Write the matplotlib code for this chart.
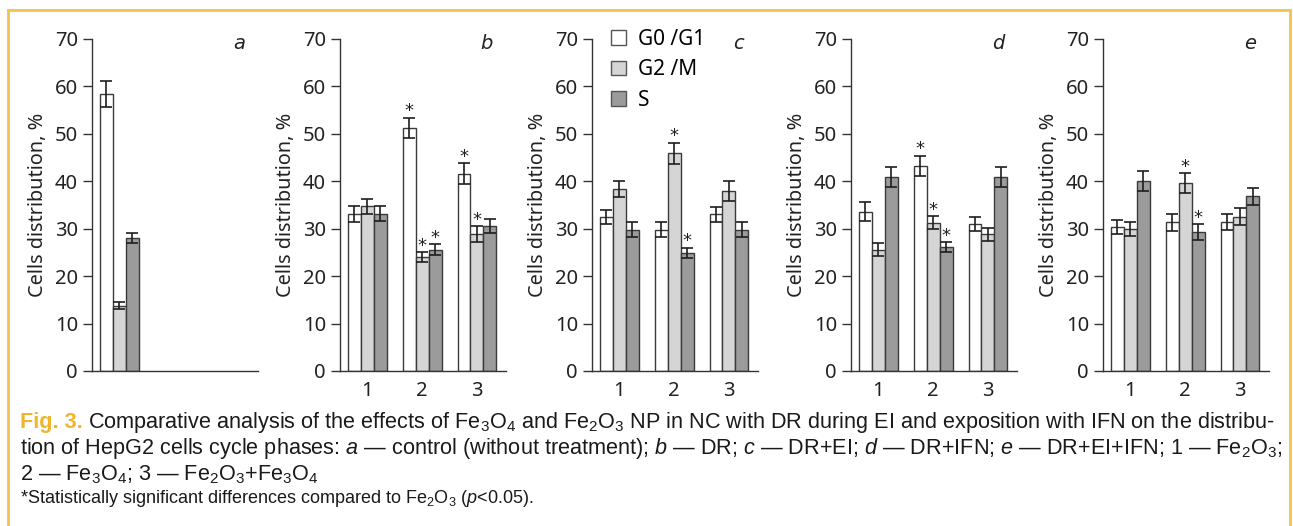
import matplotlib.pyplot as plt
from matplotlib.patches import Patch
from matplotlib.lines import Line2D

plt.rcParams["mathtext.fontset"] = "custom"
plt.rcParams["mathtext.rm"] = "Liberation Sans"
plt.rcParams["mathtext.it"] = "Liberation Sans:italic"
plt.rcParams["mathtext.bf"] = "Liberation Sans:bold"

# data: per panel, rows = groups (1 Fe2O3, 2 Fe3O4, 3 Fe2O3+Fe3O4), cols = G0/G1, G2/M, S
phases = ["G0 /G1", "G2 /M", "S"]
groups = [1, 2, 3]
panel_names = ["a", "b", "c", "d", "e"]

a_mean = [[58.4, 13.8, 28.0]]
a_err = [[2.8, 0.7, 1.1]]
a_sig = [[0, 0, 0]]

b_mean = [[33.1, 34.7, 33.2], [51.3, 24.0, 25.6], [41.6, 28.9, 30.5]]
b_err = [[1.6, 1.6, 1.5], [2.1, 1.0, 1.1], [2.2, 1.6, 1.5]]
b_sig = [[0, 0, 0], [1, 1, 1], [1, 1, 0]]

c_mean = [[32.5, 38.4, 29.8], [29.8, 45.9, 24.9], [33.0, 37.9, 29.8]]
c_err = [[1.5, 1.7, 1.6], [1.6, 2.2, 1.1], [1.6, 2.1, 1.6]]
c_sig = [[0, 0, 0], [0, 1, 1], [0, 0, 0]]

d_mean = [[33.6, 25.6, 40.9], [43.3, 31.3, 26.1], [31.0, 28.8, 40.9]]
d_err = [[2.0, 1.4, 2.2], [2.1, 1.3, 1.0], [1.5, 1.3, 2.2]]
d_sig = [[0, 0, 0], [1, 1, 1], [0, 0, 0]]

e_mean = [[30.4, 29.9, 40.0], [31.4, 39.6, 29.3], [31.4, 32.5, 36.8]]
e_err = [[1.5, 1.5, 2.1], [1.8, 2.1, 1.6], [1.7, 1.8, 1.7]]
e_sig = [[0, 0, 0], [0, 1, 1], [0, 0, 0]]

bar_colors = ["white", "#d5d5d5", "#9b9b9b"]

caption_fig = "Fig. 3."
caption_1 = ("Comparative analysis of the effects of Fe$_3$O$_4$ and Fe$_2$O$_3$ NP in NC "
             "with DR during EI and exposition with IFN on the distribu-")
caption_2 = ("tion of HepG2 cells cycle phases: $a$ — control (without treatment); $b$ — DR; "
             "$c$ — DR+EI; $d$ — DR+IFN; $e$ — DR+EI+IFN; 1 — Fe$_2$O$_3$;")
caption_3 = "2 — Fe$_3$O$_4$; 3 — Fe$_2$O$_3$+Fe$_3$O$_4$"
caption_note = "*Statistically significant differences compared to Fe$_2$O$_3$ ($p$<0.05)."

W, H = 1293, 526
fig = plt.figure(figsize=(W / 100, H / 100), dpi=100)
fig.patch.set_facecolor("white")

tick_font = "Noto Sans"
axis_left = [92, 340, 592, 851, 1103]
bar_w = 0.236

panels = [
    (a_mean, a_err, a_sig),
    (b_mean, b_err, b_sig),
    (c_mean, c_err, c_sig),
    (d_mean, d_err, d_sig),
    (e_mean, e_err, e_sig),
]

for k, (means, errs, sigs) in enumerate(panels):
    ax = fig.add_axes([axis_left[k] / W, (H - 371) / H, 166 / W, 332 / H])
    for i in range(len(means)):
        for j in range(3):
            x = groups[i] + (j - 1) * bar_w
            ax.bar(x, means[i][j], bar_w, color=bar_colors[j], edgecolor="#3a3a3a",
                   linewidth=1.0, zorder=2)
            ax.errorbar(x, means[i][j], yerr=errs[i][j], color="#1e1e1e",
                        elinewidth=1.2, capsize=4.5, capthick=1.2, zorder=3)
            if sigs[i][j]:
                ax.text(x, means[i][j] + errs[i][j] + 0.3, "*", ha="center",
                        va="baseline", fontsize=13, color="#1e1e1e",
                        family="DejaVu Sans")
    ax.set_xlim(0.5, 3.53)
    ax.set_ylim(0, 70)
    ax.set_yticks(range(0, 71, 10))
    for s in ["top", "right"]:
        ax.spines[s].set_visible(False)
    for s in ["left", "bottom"]:
        ax.spines[s].set_color("#333333")
        ax.spines[s].set_linewidth(1.0)
    ax.tick_params(axis="y", length=6.5, width=1.0, color="#333333", pad=3.5,
                   labelsize=14.5, labelcolor="#222222")
    ax.tick_params(axis="x", length=0, pad=7, labelsize=14.5, labelcolor="#222222")
    if k == 0:
        ax.set_xticks([])
    else:
        ax.set_xticks(groups)
        ax.set_xticklabels([str(g) for g in groups])
    for lab in ax.get_xticklabels() + ax.get_yticklabels():
        lab.set_family(tick_font)
    ax.set_ylabel("Cells distribution, %", fontsize=14.3, family=tick_font,
                  color="#222222", labelpad=5)
    ax.text(0.885, 0.985, panel_names[k], transform=ax.transAxes, ha="center",
            va="center", fontsize=14, style="italic", family="DejaVu Sans",
            color="#222222")
    if k == 2:
        handles = [Patch(facecolor=c, edgecolor="#555555", linewidth=1.0)
                   for c in bar_colors]
        leg = ax.legend(handles, phases, loc="upper left", bbox_to_anchor=(0.115, 1.03),
                        frameon=False, borderpad=0, borderaxespad=0,
                        handlelength=0.7, handleheight=0.7, handletextpad=0.6,
                        labelspacing=0.45, prop={"family": tick_font, "size": 15})

# caption
renderer = fig.canvas.get_renderer()
cap_size = 15.6
fig_t = fig.text(20 / W, 1 - 428 / H, caption_fig, fontsize=cap_size, weight="bold",
                 color="#f0b52d", family="Liberation Sans", va="baseline")
ext = fig_t.get_window_extent(renderer)
fig.text((ext.x1 + 5) / W, 1 - 428 / H, caption_1, fontsize=cap_size,
         family="Liberation Sans", color="#1a1a1a", va="baseline")
fig.text(20 / W, 1 - 454 / H, caption_2, fontsize=cap_size,
         family="Liberation Sans", color="#1a1a1a", va="baseline")
fig.text(20 / W, 1 - 480 / H, caption_3, fontsize=cap_size,
         family="Liberation Sans", color="#1a1a1a", va="baseline")
fig.text(20 / W, 1 - 503 / H, caption_note, fontsize=13,
         family="Liberation Sans", color="#1a1a1a", va="baseline")

# golden frame
frame_c = "#f2c34f"
fig.add_artist(Line2D([8 / W, 8 / W], [0, 1 - 10 / H], color=frame_c, lw=2))
fig.add_artist(Line2D([8 / W, 1290 / W], [1 - 10 / H, 1 - 10 / H], color=frame_c, lw=2))
fig.add_artist(Line2D([1290 / W, 1290 / W], [0, 1 - 10 / H], color=frame_c, lw=2))

fig.savefig("out.png", dpi=100)
